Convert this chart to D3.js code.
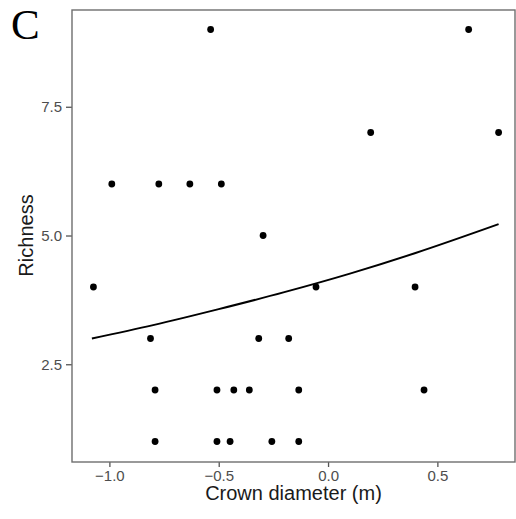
<!DOCTYPE html>
<html>
<head>
<meta charset="utf-8">
<script src="https://cdn.jsdelivr.net/npm/d3@7"></script>
<style>
  html, body { margin: 0; padding: 0; background: #fff; }
  svg { display: block; }
</style>
</head>
<body>
<div class="graph"></div>
<script>
'use strict'

// crown diameter (m) and richness for each tree
const crownDiameter = [-1.073, -0.989, -0.812, -0.791, -0.791, -0.774, -0.632, -0.537, -0.488,
  -0.508, -0.508, -0.431, -0.448, -0.36, -0.317, -0.297, -0.257, -0.18, -0.134, -0.134,
  -0.055, 0.195, 0.398, 0.439, 0.643, 0.78]
const richness = [4, 6, 3, 2, 1, 6, 6, 9, 6,
  2, 1, 2, 1, 2, 3, 5, 1, 3, 2, 1,
  4, 7, 4, 2, 9, 7]

// fitted curve
const fitX = [-1.08, -0.8, -0.5, -0.2, 0.1, 0.4, 0.78]
const fitY = [3.00, 3.26, 3.57, 3.90, 4.26, 4.66, 5.22]

const xTicks = [-1.0, -0.5, 0.0, 0.5]
const yTicks = [2.5, 5.0, 7.5]

;(function (d3) {
  const W = 516, H = 519
  const margin = { top: 10, right: 1, bottom: 57, left: 72 }
  const width = W - margin.left - margin.right,
    height = H - margin.top - margin.bottom

  const svg = d3.select('.graph').append('svg')
    .attr('width', W)
    .attr('height', H)

  const g = svg.append('g')
    .attr('transform', `translate(${margin.left},${margin.top})`)

  const xScale = d3.scaleLinear().domain([-1.171, 0.855]).range([0, width])
  const yScale = d3.scaleLinear().domain([0.602, 9.379]).range([height, 0])

  // axes
  const xAxis = g.append('g')
    .attr('transform', `translate(0,${height})`)
    .call(d3.axisBottom(xScale).tickValues(xTicks).tickFormat(d3.format('.1f')).tickSize(5).tickSizeOuter(0).tickPadding(3))
  const yAxis = g.append('g')
    .call(d3.axisLeft(yScale).tickValues(yTicks).tickFormat(d3.format('.1f')).tickSize(6).tickSizeOuter(0).tickPadding(4))

  ;[xAxis, yAxis].forEach(a => {
    a.select('.domain').remove()
    a.selectAll('line').attr('stroke', '#555').attr('stroke-width', 1.3)
    a.selectAll('text')
      .style('font-family', '"Liberation Sans", Arial, sans-serif')
      .style('font-size', '15px')
      .attr('fill', '#4d4d4d')
  })

  // panel border
  g.append('rect')
    .attr('width', width)
    .attr('height', height)
    .attr('fill', 'none')
    .attr('stroke', '#6e6e6e')
    .attr('stroke-width', 1.4)

  // fitted line
  const line = d3.line()
    .x((d, i) => xScale(fitX[i]))
    .y(d => yScale(d))
    .curve(d3.curveMonotoneX)
  g.append('path')
    .datum(fitY)
    .attr('d', line)
    .attr('fill', 'none')
    .attr('stroke', '#000')
    .attr('stroke-width', 2)

  // points
  g.selectAll('circle.pt')
    .data(richness)
    .join('circle')
    .attr('class', 'pt')
    .attr('cx', (d, i) => xScale(crownDiameter[i]))
    .attr('cy', d => yScale(d))
    .attr('r', 3.4)
    .attr('fill', '#000')

  // axis titles
  svg.append('text')
    .attr('x', margin.left + width / 2)
    .attr('y', 500)
    .attr('text-anchor', 'middle')
    .style('font-family', '"Liberation Sans", Arial, sans-serif')
    .style('font-size', '20px')
    .attr('fill', '#1a1a1a')
    .text('Crown diameter (m)')

  svg.append('text')
    .attr('transform', `translate(33,${235.5}) rotate(-90)`)
    .attr('text-anchor', 'middle')
    .style('font-family', '"Liberation Sans", Arial, sans-serif')
    .style('font-size', '20px')
    .attr('fill', '#1a1a1a')
    .text('Richness')

  // panel letter
  svg.append('text')
    .attr('x', 11)
    .attr('y', 39)
    .style('font-family', '"Liberation Serif", "Times New Roman", serif')
    .style('font-size', '43px')
    .attr('fill', '#000')
    .text('C')
})(d3)
</script>
</body>
</html>
